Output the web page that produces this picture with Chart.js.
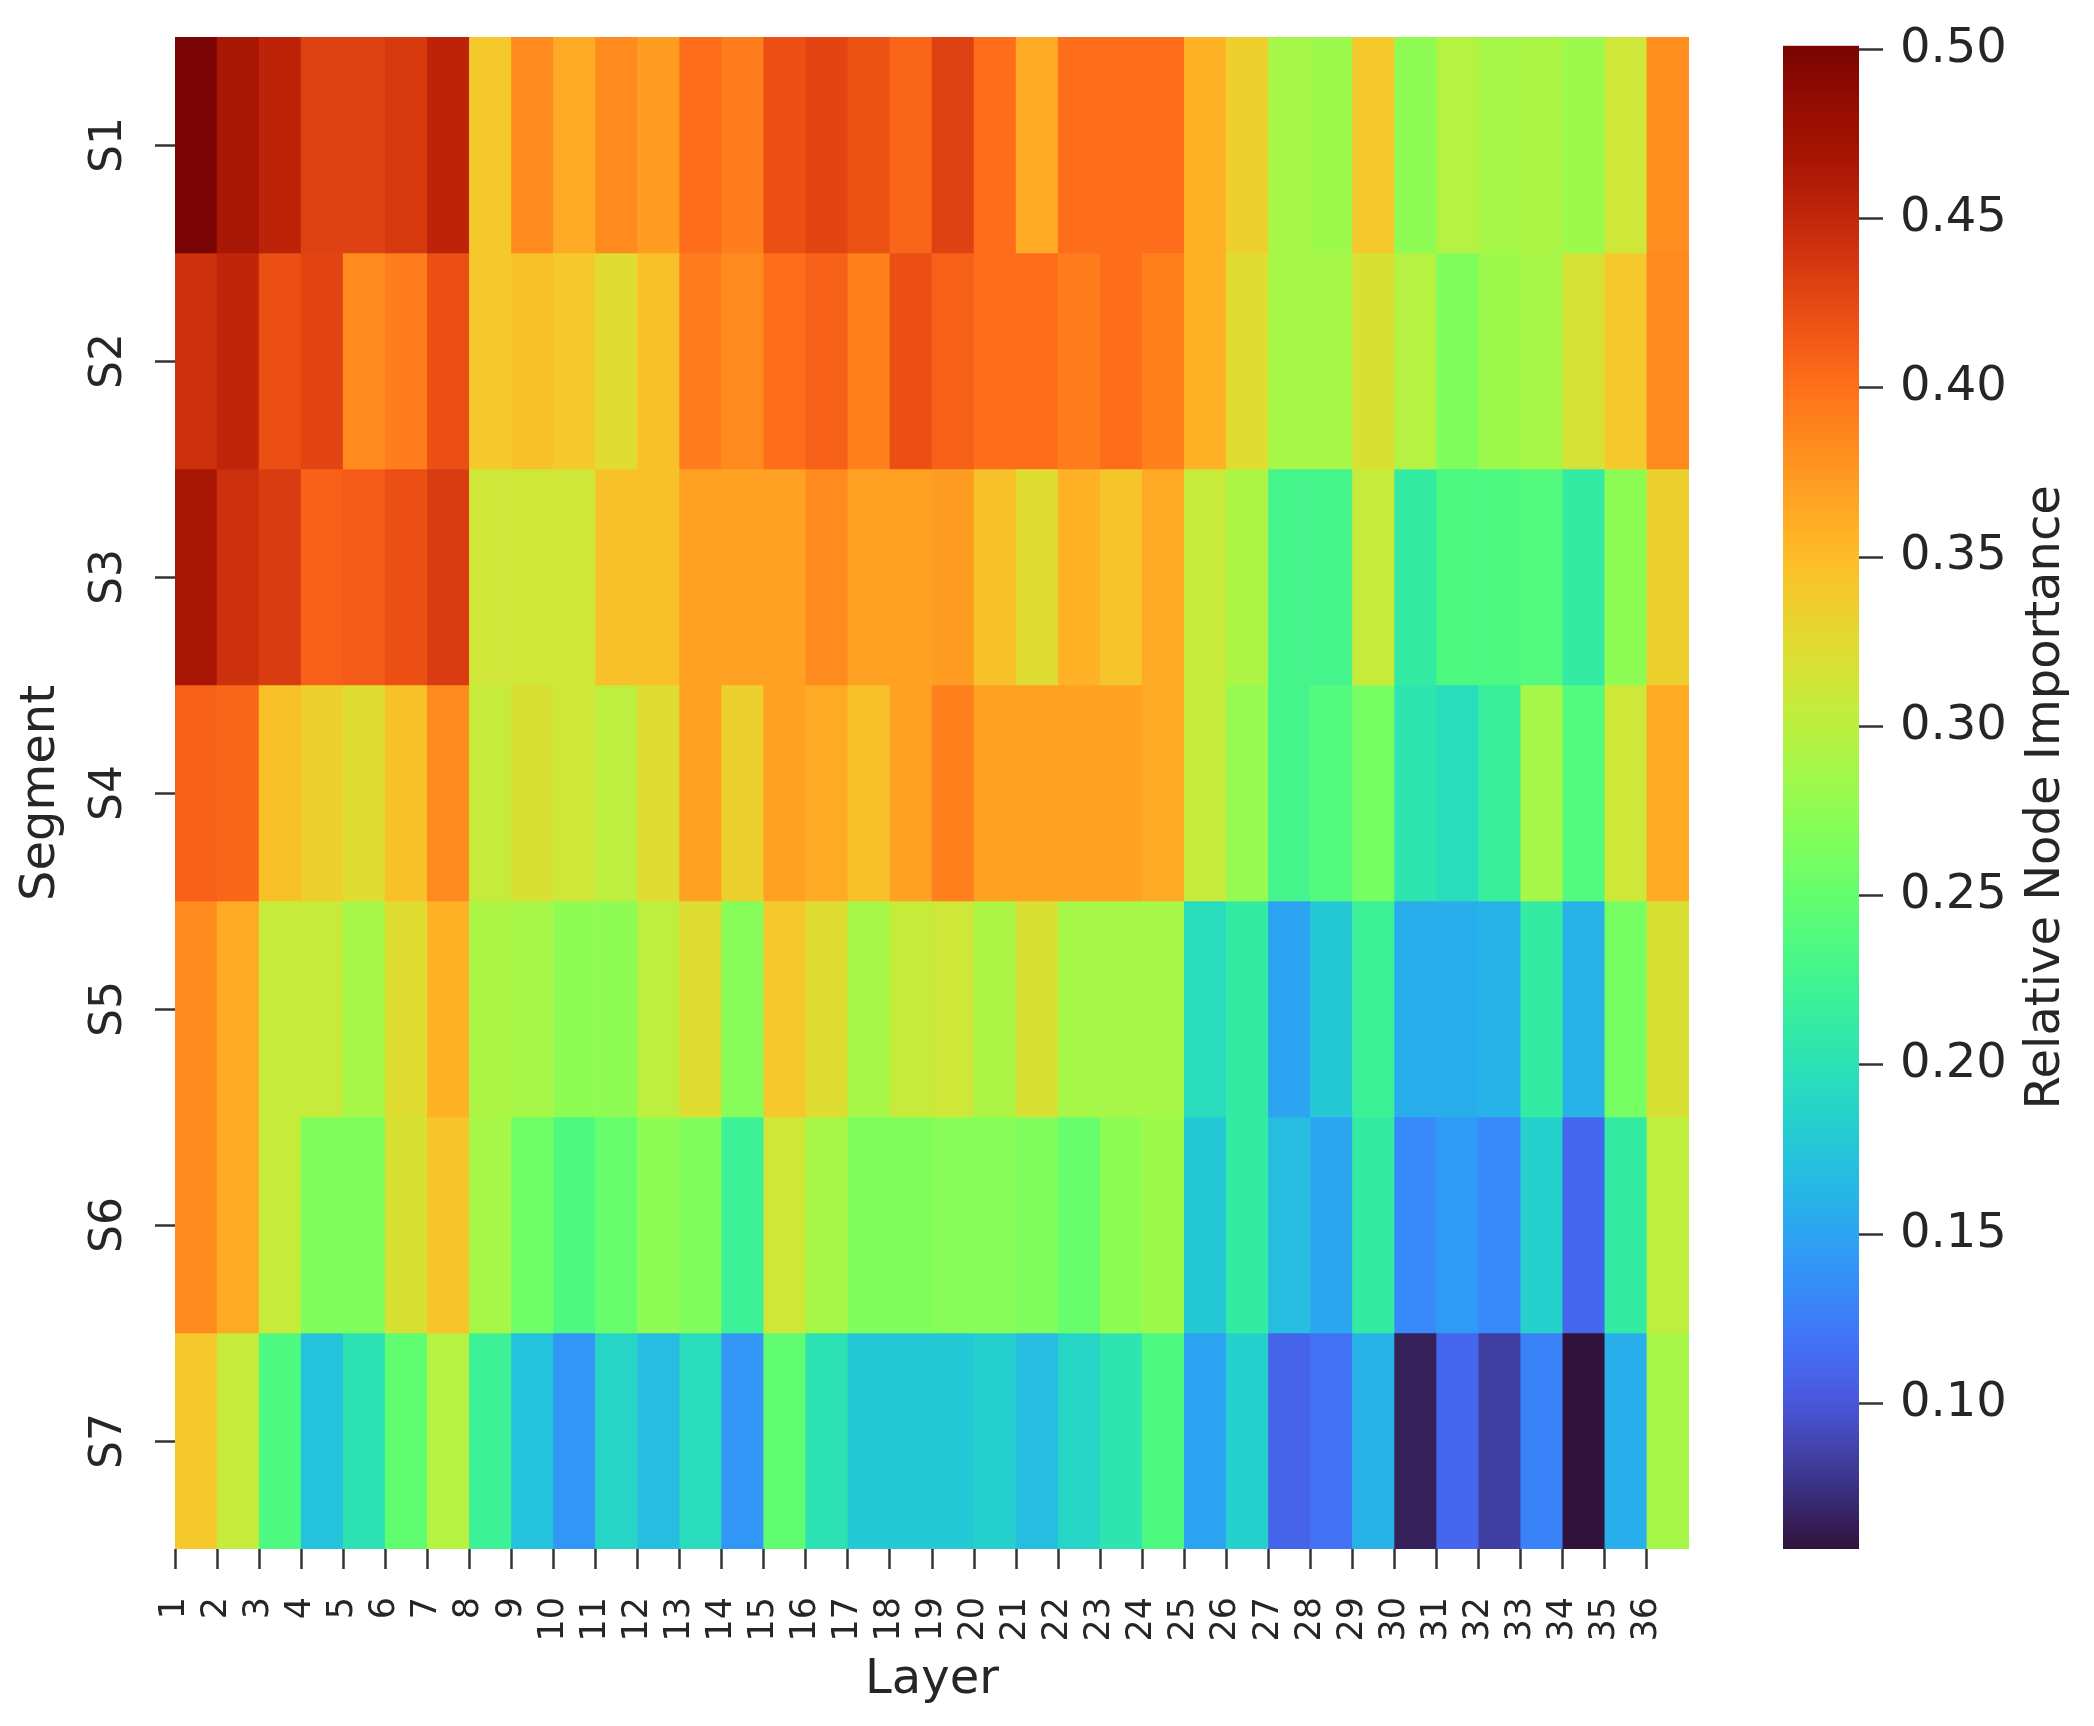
<!DOCTYPE html>
<html>
<head>
<meta charset="utf-8">
<script src="https://cdn.jsdelivr.net/npm/chart.js@4.4.1/dist/chart.umd.min.js"></script>
<style>
  body { margin: 0; background: #fff; }
  #wrap { position: relative; width: 2094px; height: 1726px; }
  #heat { position: absolute; left: 0; top: 0; }
  #cbar { position: absolute; left: 1760px; top: 0; }
</style>
</head>
<body>
<div id="wrap">
  <canvas id="heat" width="1760" height="1726"></canvas>
  <canvas id="cbar" width="334" height="1726"></canvas>
</div>
<script>
// layers (columns) and segments (rows)
const layers = ['1','2','3','4','5','6','7','8','9','10','11','12','13','14','15','16','17','18',
                '19','20','21','22','23','24','25','26','27','28','29','30','31','32','33','34','35','36'];
const segments = ['S1','S2','S3','S4','S5','S6','S7'];

// relative node importance per segment, one value per layer
const s1 = [0.501,0.468,0.454,0.43,0.43,0.436,0.454,0.341,0.383,0.363,0.383,0.372,0.401,0.392,0.421,0.428,0.419,0.406,
            0.43,0.401,0.363,0.401,0.401,0.401,0.357,0.334,0.288,0.283,0.341,0.275,0.297,0.288,0.292,0.283,0.312,0.381];
const s2 = [0.443,0.452,0.421,0.428,0.383,0.392,0.421,0.341,0.346,0.341,0.323,0.346,0.392,0.383,0.401,0.41,0.39,0.421,
            0.41,0.401,0.401,0.392,0.401,0.39,0.357,0.323,0.288,0.288,0.319,0.297,0.266,0.283,0.288,0.317,0.341,0.383];
const s3 = [0.468,0.443,0.434,0.41,0.413,0.421,0.434,0.312,0.312,0.312,0.346,0.346,0.368,0.368,0.368,0.383,0.368,0.368,
            0.372,0.346,0.323,0.357,0.343,0.363,0.307,0.292,0.228,0.228,0.307,0.212,0.235,0.235,0.239,0.212,0.275,0.334];
const s4 = [0.41,0.406,0.346,0.334,0.323,0.346,0.383,0.307,0.319,0.312,0.302,0.323,0.368,0.334,0.368,0.363,0.346,0.368,
            0.39,0.368,0.368,0.368,0.368,0.363,0.307,0.279,0.228,0.239,0.261,0.204,0.195,0.217,0.288,0.239,0.312,0.363];
const s5 = [0.383,0.363,0.307,0.307,0.288,0.323,0.357,0.292,0.288,0.275,0.275,0.302,0.323,0.27,0.341,0.323,0.288,0.307,
            0.312,0.292,0.319,0.288,0.288,0.288,0.195,0.212,0.15,0.177,0.221,0.157,0.157,0.161,0.212,0.161,0.261,0.319];
const s6 = [0.383,0.363,0.307,0.266,0.266,0.319,0.343,0.288,0.257,0.235,0.252,0.275,0.266,0.221,0.312,0.288,0.266,0.266,
            0.27,0.27,0.266,0.252,0.275,0.283,0.177,0.212,0.168,0.152,0.212,0.132,0.144,0.132,0.184,0.111,0.212,0.302];
const s7 = [0.341,0.307,0.235,0.173,0.201,0.248,0.297,0.221,0.173,0.141,0.188,0.168,0.195,0.141,0.248,0.201,0.177,0.177,
            0.177,0.184,0.168,0.188,0.204,0.235,0.15,0.184,0.109,0.117,0.161,0.065,0.111,0.084,0.128,0.057,0.157,0.288];

// colour bar
const cbTicks = [0.10,0.15,0.20,0.25,0.30,0.35,0.40,0.45,0.50];
const vMin = 0.057, vMax = 0.501;

const rows = [s1,s2,s3,s4,s5,s6,s7];
const ink = '#262626';

// turbo colormap: polynomial fit, with the dark ends pinned to the real table
function turboPoly(t) {
  const r = 0.13572138 + t*(4.61539260 + t*(-42.66032258 + t*(132.13108234 + t*(-152.94239396 + t*59.28637943))));
  const g = 0.09140261 + t*(2.19418839 + t*(4.84296658 + t*(-14.18503333 + t*(4.27729857 + t*2.82956604))));
  const b = 0.10667330 + t*(12.64194608 + t*(-60.58204836 + t*(110.36276771 + t*(-89.90310912 + t*27.34824973))));
  return [r*255, g*255, b*255];
}
const lerp = (a, b, f) => a.map((v, i) => v + (b[i] - v)*f);
function turbo(t) {
  t = Math.max(0, Math.min(1, t));
  let c;
  if (t < 0.05) c = lerp([48,18,59], [62,56,145], t/0.05);
  else if (t < 0.1) c = lerp([62,56,145], turboPoly(0.1), (t - 0.05)/0.05);
  else if (t > 0.95) c = lerp(turboPoly(0.95), [122,4,3], (t - 0.95)/0.05);
  else c = turboPoly(t);
  const k = v => Math.round(Math.max(0, Math.min(255, v)));
  return 'rgb(' + k(c[0]) + ',' + k(c[1]) + ',' + k(c[2]) + ')';
}
const colorFor = v => turbo((v - vMin)/(vMax - vMin));

Chart.defaults.font.family = "'DejaVu Sans', sans-serif";
Chart.defaults.color = ink;

const datasets = rows.map((vals, r) => ({
  label: segments[r],
  data: vals.map((v, i) => ({x: i + 0.5, y: [r, r + 1]})),
  backgroundColor: vals.map(colorFor),
  borderWidth: 0,
  grouped: false,
  barPercentage: 1,
  categoryPercentage: 1
}));

// rotated segment names left of the rows
const segLabels = {
  id: 'segLabels',
  afterDraw(chart) {
    const ctx = chart.ctx, ys = chart.scales.y;
    ctx.save();
    ctx.font = "44px 'DejaVu Sans'";
    ctx.fillStyle = ink;
    ctx.textAlign = 'center';
    ctx.textBaseline = 'middle';
    segments.forEach((s, i) => {
      ctx.save();
      ctx.translate(ys.right - 65, ys.getPixelForValue(i + 0.5));
      ctx.rotate(-Math.PI/2);
      ctx.fillText(s, 0, 0);
      ctx.restore();
    });
    ctx.restore();
  }
};

new Chart(document.getElementById('heat'), {
  type: 'bar',
  data: { datasets },
  options: {
    responsive: false, animation: false, events: [],
    layout: { padding: { left: 0, top: 37, right: 71, bottom: 0 } },
    plugins: { legend: { display: false }, tooltip: { enabled: false } },
    scales: {
      x: {
        type: 'linear', min: 0, max: layers.length, offset: false,
        afterBuildTicks: s => { s.ticks = layers.map((_, i) => ({ value: i })); },
        afterFit: s => { s.height = 177; },
        ticks: { autoSkip: false, minRotation: 90, maxRotation: 90, padding: 28,
                 font: { size: 35 }, color: ink, callback: (v, i) => layers[i] },
        grid: { offset: false, drawOnChartArea: false, tickLength: 20, tickWidth: 2.5, tickColor: '#333' },
        border: { display: false },
        title: { display: true, text: 'Layer', font: { size: 48 }, color: ink, padding: { top: 0, bottom: 17 } }
      },
      y: {
        type: 'linear', min: 0, max: segments.length, reverse: true,
        afterBuildTicks: s => { s.ticks = segments.map((_, i) => ({ value: i + 0.5 })); },
        afterFit: s => { s.width = 175; },
        ticks: { display: false },
        grid: { drawOnChartArea: false, tickLength: 20, tickWidth: 2.5, tickColor: '#333' },
        border: { display: false },
        title: { display: true, text: 'Segment', font: { size: 48 }, color: ink, padding: { top: 13, bottom: 0 } }
      }
    }
  },
  plugins: [segLabels]
});

// colour bar: gradient in the chart area, title drawn rotated upward
const cbPlugin = {
  id: 'cbPlugin',
  beforeDatasetsDraw(chart) {
    const ctx = chart.ctx, a = chart.chartArea;
    const grad = ctx.createLinearGradient(0, a.bottom, 0, a.top);
    for (let k = 0; k <= 100; k++) grad.addColorStop(k/100, turbo(k/100));
    ctx.save();
    ctx.fillStyle = grad;
    ctx.fillRect(a.left, a.top, a.right - a.left, a.bottom - a.top);
    ctx.restore();
  },
  afterDraw(chart) {
    const ctx = chart.ctx, a = chart.chartArea;
    ctx.save();
    ctx.font = "48px 'DejaVu Sans'";
    ctx.fillStyle = ink;
    ctx.textAlign = 'center';
    ctx.textBaseline = 'middle';
    ctx.translate(a.right + 188, (a.top + a.bottom)/2);
    ctx.rotate(-Math.PI/2);
    ctx.fillText('Relative Node Importance', 0, 0);
    ctx.restore();
  }
};

new Chart(document.getElementById('cbar'), {
  type: 'scatter',
  data: { datasets: [{ data: [] }] },
  options: {
    responsive: false, animation: false, events: [],
    layout: { padding: { left: 23, top: 37, right: 0, bottom: 177 } },
    plugins: { legend: { display: false }, tooltip: { enabled: false } },
    scales: {
      x: { display: false, min: 0, max: 1 },
      y: {
        position: 'right', min: vMin, max: vMax,
        afterBuildTicks: s => { s.ticks = cbTicks.map(v => ({ value: v })); },
        afterFit: s => { s.width = 235; },
        ticks: { font: { size: 48 }, padding: 17, color: ink, callback: v => v.toFixed(2) },
        grid: { drawOnChartArea: false, tickLength: 24, tickWidth: 2.5, tickColor: '#333' },
        border: { display: false }
      }
    }
  },
  plugins: [cbPlugin]
});
</script>
</body>
</html>
